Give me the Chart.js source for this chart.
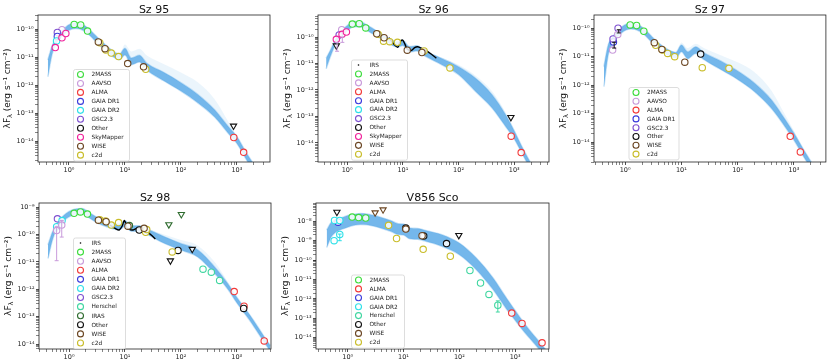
<!DOCTYPE html>
<html>
<head>
<meta charset="utf-8">
<script src="https://cdn.jsdelivr.net/npm/chart.js@4.4.0/dist/chart.umd.min.js"></script>
<style>
  body { margin: 0; background: #fff; }
  #wrap { position: relative; width: 831px; height: 364px; }
  canvas { position: absolute; left: 0; top: 0; }
</style>
</head>
<body>
<div id="wrap">
  <canvas id="c1" width="831" height="364"></canvas>
  <canvas id="c2" width="831" height="364"></canvas>
  <canvas id="c3" width="831" height="364"></canvas>
  <canvas id="c4" width="831" height="364"></canvas>
  <canvas id="c5" width="831" height="364"></canvas>
</div>
<script>
// model grid (micron), shared by all panels; model envelopes are log10(lambda F_lambda)
const modelWave = [0.42, 0.5, 0.6, 0.8, 1.0, 1.3, 1.7, 2.2, 3, 4, 6, 8, 10, 13, 18, 25, 50, 100, 200, 400, 700, 1000, 1500, 2000, 3000, 4000];

// ---- Sz 95
const sz95Wave   = [0.57, 0.60, 0.62, 0.62, 0.75, 0.75, 0.88, 1.24, 1.62, 2.15, 3.35, 3.55, 4.4, 4.55, 5.7, 7.7, 11.2, 21.5, 23.5, 880, 1320];
const sz95Flux   = [2.2e-11, 3.8e-11, 5.5e-11, 7.6e-11, 9.5e-11, 4.9e-11, 7.0e-11, 1.47e-10, 1.42e-10, 8.5e-11, 3.5e-11, 3.3e-11, 2.0e-11, 1.8e-11, 1.4e-11, 1.05e-11, 5.9e-12, 4.5e-12, 3.7e-12, 1.35e-14, 4.0e-15];
const sz95Survey = ['SkyMapper', 'GAIA DR2', 'GAIA DR1', 'GSC2.3', 'AAVSO', 'SkyMapper', 'SkyMapper', '2MASS', '2MASS', '2MASS', 'WISE', 'c2d', 'WISE', 'c2d', 'c2d', 'c2d', 'WISE', 'WISE', 'c2d', 'ALMA', 'ALMA'];
const sz95LimWave = [870];
const sz95LimFlux = [3.5e-14];
const sz95LimSurvey = ['Other'];
const sz95ModelLo  = [-11.7, -10.9, -10.49, -10.2, -10.04, -9.98, -10.02, -10.17, -10.43, -10.67, -10.97, -11.09, -10.92, -11.27, -11.17, -11.47, -11.85, -12.21, -12.63, -13.14, -13.72, -14.08, -14.68, -15.07, -15.62, -16.12];
const sz95ModelHi  = [-11.1, -10.6, -10.29, -10.0, -9.84, -9.78, -9.82, -9.97, -10.23, -10.47, -10.77, -10.89, -10.68, -11.03, -10.93, -11.23, -11.55, -11.91, -12.33, -12.88, -13.48, -13.84, -14.44, -14.83, -15.38, -15.88];
const sz95ModelFan = [-11.1, -10.6, -10.29, -10.0, -9.84, -9.78, -9.82, -9.97, -10.23, -10.47, -10.77, -10.89, -10.55, -10.8, -10.7, -10.95, -11.25, -11.55, -11.9, -12.5, -13.3, -13.84, -14.44, -14.83, -15.38, -15.88];
const sz95Legend = ['2MASS', 'AAVSO', 'ALMA', 'GAIA DR1', 'GAIA DR2', 'GSC2.3', 'Other', 'SkyMapper', 'WISE', 'c2d'];

// ---- Sz 96
const sz96Wave   = [0.64, 0.72, 0.80, 0.81, 0.97, 1.24, 1.65, 2.16, 3.4, 3.6, 4.5, 4.6, 5.8, 8.0, 12, 22, 24, 70, 880, 1330];
const sz96Flux   = [8.2e-11, 1.2e-10, 1.9e-10, 1.27e-10, 1.55e-10, 3.1e-10, 3.2e-10, 2.2e-10, 1.33e-10, 1.27e-10, 7.0e-11, 9.4e-11, 6.7e-11, 6.3e-11, 3.2e-11, 2.6e-11, 3.0e-11, 6.8e-12, 1.8e-14, 4.3e-15];
const sz96Survey = ['SkyMapper', 'GSC2.3', 'AAVSO', 'SkyMapper', 'SkyMapper', '2MASS', '2MASS', '2MASS', 'WISE', 'c2d', 'c2d', 'WISE', 'c2d', 'c2d', 'WISE', 'WISE', 'c2d', 'c2d', 'ALMA', 'ALMA'];
const sz96LimWave = [0.64, 870];
const sz96LimFlux = [4.7e-11, 9.3e-14];
const sz96LimSurvey = ['Other', 'Other'];
const sz96ErrWave = [0.66, 0.82];
const sz96ErrLo = [2.9e-11, 6.3e-11];
const sz96ErrHi = [6.2e-11, 1.0e-10];
const sz96ErrSurvey = ['AAVSO', 'AAVSO'];
const sz96IrsWave = [5.6, 6.9, 8.1, 8.9, 9.9, 10.9, 11.8, 14.1, 16.3, 18.5, 21.8, 26.8, 33, 40];
const sz96IrsFlux = [9.4e-11, 5.4e-11, 4.1e-11, 6.6e-11, 7.7e-11, 5.4e-11, 3.7e-11, 3.1e-11, 4.0e-11, 4.3e-11, 3.7e-11, 3.0e-11, 2.2e-11, 1.6e-11];
const sz96ModelLo  = [-11.2, -10.74, -10.34, -9.96, -9.77, -9.61, -9.61, -9.73, -9.9, -10.06, -10.28, -10.38, -10.32, -10.56, -10.53, -10.72, -11.05, -11.42, -12.05, -12.68, -13.38, -13.85, -14.54, -15.02, -15.72, -16.32];
const sz96ModelHi  = [-10.8, -10.5, -10.14, -9.76, -9.57, -9.41, -9.41, -9.53, -9.7, -9.86, -10.08, -10.18, -10.12, -10.36, -10.33, -10.52, -10.81, -11.12, -11.55, -12.18, -12.94, -13.55, -14.3, -14.78, -15.48, -16.08];
const sz96ModelFan = [-10.8, -10.5, -10.14, -9.76, -9.57, -9.41, -9.41, -9.53, -9.7, -9.86, -10.08, -10.18, -10.12, -10.36, -10.33, -10.52, -10.78, -11.05, -11.45, -12.05, -12.85, -13.5, -14.3, -14.78, -15.48, -16.08];
const sz96Legend = ['IRS', '2MASS', 'AAVSO', 'ALMA', 'GAIA DR1', 'GAIA DR2', 'GSC2.3', 'Other', 'SkyMapper', 'WISE', 'c2d'];

// ---- Sz 97
const sz97Wave   = [0.60, 0.61, 0.62, 0.74, 0.75, 1.23, 1.6, 2.15, 3.3, 3.5, 4.5, 4.6, 5.7, 7.6, 11.5, 22, 23.5, 70, 860, 1300];
const sz97Flux   = [1.7e-11, 4.2e-11, 3.3e-11, 6.0e-11, 1.0e-10, 1.3e-10, 1.24e-10, 7.8e-11, 3.1e-11, 2.5e-11, 1.8e-11, 1.7e-11, 1.3e-11, 1.0e-11, 6.4e-12, 1.23e-11, 4.1e-12, 3.9e-12, 1.6e-14, 4.5e-15];
const sz97Survey = ['AAVSO', 'GSC2.3', 'GAIA DR1', 'AAVSO', 'GSC2.3', '2MASS', '2MASS', '2MASS', 'WISE', 'c2d', 'WISE', 'c2d', 'c2d', 'c2d', 'WISE', 'Other', 'c2d', 'c2d', 'ALMA', 'ALMA'];
const sz97ErrWave = [0.64, 0.77];
const sz97ErrLo = [2.0e-11, 6.8e-11];
const sz97ErrHi = [3.2e-11, 8.8e-11];
const sz97ErrSurvey = ['Other', 'Other'];
const sz97ModelLo  = [-12.05, -10.95, -10.54, -10.23, -10.08, -10.03, -10.08, -10.23, -10.5, -10.73, -10.97, -11.05, -10.83, -11.07, -10.89, -11.1, -11.45, -11.8, -12.23, -12.82, -13.47, -13.93, -14.52, -14.92, -15.52, -16.02];
const sz97ModelHi  = [-11.35, -10.59, -10.3, -10.03, -9.88, -9.83, -9.88, -10.03, -10.3, -10.53, -10.77, -10.85, -10.59, -10.83, -10.65, -10.86, -11.15, -11.5, -11.93, -12.52, -13.21, -13.69, -14.28, -14.68, -15.28, -15.78];
const sz97ModelFan = [-11.35, -10.59, -10.3, -10.03, -9.88, -9.83, -9.88, -10.03, -10.3, -10.53, -10.77, -10.85, -10.5, -10.7, -10.55, -10.7, -10.95, -11.2, -11.55, -12.2, -13.05, -13.6, -14.28, -14.68, -15.28, -15.78];
const sz97Legend = ['2MASS', 'AAVSO', 'ALMA', 'GAIA DR1', 'GSC2.3', 'Other', 'WISE', 'c2d'];

// ---- Sz 98
const sz98Wave   = [0.60, 0.60, 0.62, 0.74, 0.75, 1.23, 1.6, 2.13, 3.35, 3.55, 4.5, 4.6, 5.7, 7.7, 11.3, 12, 18, 22, 23.5, 24.5, 70, 89, 249, 351, 494, 900, 1330, 1350, 3100];
const sz98Flux   = [1.38e-10, 1.9e-10, 3.7e-10, 2.2e-10, 3.2e-10, 5.9e-10, 6.6e-10, 5.5e-10, 3.3e-10, 3.4e-10, 3.1e-10, 2.9e-10, 2.2e-10, 2.7e-10, 2.0e-10, 2.1e-10, 1.45e-10, 1.67e-10, 1.2e-10, 1.5e-10, 2.3e-11, 2.6e-11, 5.4e-12, 4.2e-12, 2.1e-12, 8.2e-13, 2.0e-13, 2.4e-13, 1.3e-14];
const sz98Survey = ['AAVSO', 'GAIA DR2', 'GSC2.3', 'AAVSO', 'GAIA DR2', '2MASS', '2MASS', '2MASS', 'WISE', 'c2d', 'c2d', 'WISE', 'c2d', 'c2d', 'WISE', 'IRAS', 'Other', 'WISE', 'c2d', 'c2d', 'c2d', 'Other', 'Herschel', 'Herschel', 'Herschel', 'ALMA', 'Other', 'ALMA', 'ALMA'];
const sz98LimWave = [61, 102, 65, 160];
const sz98LimFlux = [2.3e-10, 5.4e-10, 1.1e-11, 2.9e-11];
const sz98LimSurvey = ['IRAS', 'IRAS', 'Other', 'Other'];
const sz98ErrWave = [0.60, 0.74];
const sz98ErrLo = [1.1e-11, 8.0e-11];
const sz98ErrHi = [1.9e-10, 3.2e-10];
const sz98ErrSurvey = ['AAVSO', 'AAVSO'];
const sz98IrsWave = [5.4, 6.7, 7.9, 8.9, 9.7, 10.5, 11.9, 14, 16.6, 19.5, 24, 29.5, 35];
const sz98IrsFlux = [2.2e-10, 1.65e-10, 1.45e-10, 2.0e-10, 3.2e-10, 2.4e-10, 1.58e-10, 1.45e-10, 1.7e-10, 1.78e-10, 1.32e-10, 9.5e-11, 6.8e-11];
const sz98ModelLo  = [-10.88, -10.23, -9.82, -9.51, -9.36, -9.27, -9.25, -9.37, -9.55, -9.67, -9.79, -9.82, -9.7, -9.88, -9.88, -10.0, -10.32, -10.57, -10.82, -11.42, -12.01, -12.49, -12.98, -13.34, -13.89, -14.26];
const sz98ModelHi  = [-10.38, -9.93, -9.62, -9.31, -9.16, -9.07, -9.05, -9.17, -9.35, -9.47, -9.59, -9.62, -9.5, -9.68, -9.68, -9.8, -10.08, -10.33, -10.56, -11.18, -11.81, -12.29, -12.78, -13.14, -13.69, -14.06];
const sz98ModelFan = [-10.38, -9.93, -9.62, -9.31, -9.16, -9.07, -9.05, -9.17, -9.35, -9.47, -9.59, -9.62, -9.5, -9.68, -9.68, -9.8, -10.0, -10.2, -10.4, -11.0, -11.75, -12.29, -12.78, -13.14, -13.69, -14.06];
const sz98Legend = ['IRS', '2MASS', 'AAVSO', 'ALMA', 'GAIA DR1', 'GAIA DR2', 'GSC2.3', 'Herschel', 'IRAS', 'Other', 'WISE', 'c2d'];

// ---- V856 Sco
const v856Wave   = [0.57, 0.58, 0.67, 0.72, 0.72, 1.2, 1.57, 2.1, 5.4, 7.5, 11, 11, 21.5, 22.5, 23, 59, 69, 155, 240, 340, 490, 870, 1330, 3040];
const v856Flux   = [1.0e-9, 1.1e-8, 9.0e-9, 1.1e-8, 2.1e-9, 1.66e-8, 1.55e-8, 1.48e-8, 6.2e-9, 1.3e-9, 4.0e-9, 4.5e-9, 1.8e-9, 3.6e-10, 1.75e-9, 7.1e-10, 1.58e-10, 2.9e-11, 6.6e-12, 1.7e-12, 4.7e-13, 1.86e-13, 5.4e-14, 5.4e-15];
const v856Survey = ['GAIA DR2', 'GAIA DR2', 'GAIA DR1', 'GAIA DR2', 'GAIA DR2', '2MASS', '2MASS', '2MASS', 'c2d', 'c2d', 'WISE', 'Other', 'WISE', 'c2d', 'Other', 'Other', 'c2d', 'Herschel', 'Herschel', 'Herschel', 'Herschel', 'ALMA', 'ALMA', 'ALMA'];
const v856LimWave = [0.64, 3.1, 4.3, 98];
const v856LimFlux = [3.0e-8, 2.8e-8, 4.0e-8, 1.9e-9];
const v856LimSurvey = ['Other', 'WISE', 'WISE', 'Other'];
const v856ErrWave = [0.72, 490];
const v856ErrLo = [1.0e-9, 2.1e-13];
const v856ErrHi = [2.2e-9, 7.9e-13];
const v856ErrSurvey = ['GAIA DR2', 'Herschel'];
const v856ModelLo  = [-9.35, -8.83, -8.58, -8.4, -8.3, -8.2, -8.16, -8.18, -8.26, -8.36, -8.53, -8.68, -8.7, -8.9, -8.93, -9.03, -9.3, -9.72, -10.48, -11.51, -12.52, -13.1, -13.75, -14.16, -14.76, -15.2];
const v856ModelHi  = [-8.45, -8.07, -7.92, -7.8, -7.7, -7.64, -7.6, -7.62, -7.7, -7.8, -7.97, -8.12, -8.14, -8.34, -8.37, -8.47, -8.7, -9.12, -9.88, -10.91, -11.96, -12.6, -13.31, -13.76, -14.36, -14.8];
const v856ModelFan = v856ModelHi;
const v856Legend = ['2MASS', 'ALMA', 'GAIA DR1', 'GAIA DR2', 'Herschel', 'Other', 'WISE', 'c2d'];

const surveyColors = {
  '2MASS': '#3ddc3d', 'AAVSO': '#c99bdb', 'ALMA': '#f23a3a', 'GAIA DR1': '#3b3bdc',
  'GAIA DR2': '#2ee0e8', 'GSC2.3': '#7d4fd0', 'Herschel': '#3fd6a0', 'IRAS': '#2e6b2e',
  'Other': '#111111', 'SkyMapper': '#f0209a', 'WISE': '#6b4623', 'c2d': '#c9bd2a', 'IRS': '#000000'
};

const supChars = { '0': '⁰', '1': '¹', '2': '²', '3': '³', '4': '⁴', '5': '⁵', '6': '⁶', '7': '⁷', '8': '⁸', '9': '⁹', '-': '⁻' };
function isDecade(v) { const l = Math.log10(v); return Math.abs(l - Math.round(l)) < 1e-6; }
function sup(v) { return '10' + String(Math.round(Math.log10(v))).split('').map(c => supChars[c]).join(''); }
function logTicks(min, max) {
  const out = [];
  for (let e = Math.floor(Math.log10(min)); e <= Math.ceil(Math.log10(max)); e++) {
    for (let m = 1; m < 10; m++) {
      const v = m * Math.pow(10, e);
      if (v >= min && v <= max) out.push({ value: v });
    }
  }
  return out;
}

function logAxis(range, isX) {
  return {
    type: 'logarithmic', min: range[0], max: range[1], position: isX ? 'bottom' : 'left',
    afterBuildTicks: ax => { ax.ticks = logTicks(range[0], range[1]); },
    afterFit: ax => { if (isX) ax.height = 14; else ax.width = 30; },
    grid: {
      display: true, drawOnChartArea: false, drawTicks: true, tickLength: 3, lineWidth: 0.8,
      tickColor: c => (c.tick && isDecade(c.tick.value)) ? '#222' : '#666'
    },
    border: { display: false },
    ticks: {
      autoSkip: false, maxRotation: 0, padding: isX ? 1 : 1.5, color: '#222',
      font: { size: 6.5, family: 'DejaVu Sans' },
      callback: v => isDecade(v) ? sup(v) : ''
    }
  };
}

// frame, title, y label, legend box and error bars
const decor = {
  id: 'decor',
  afterDatasetsDraw(chart, args, o) {
    const { ctx, scales: { x, y } } = chart;
    if (!o.errWave) return;
    ctx.save();
    ctx.lineWidth = 1;
    o.errWave.forEach((w, i) => {
      const px = x.getPixelForValue(w), p1 = y.getPixelForValue(o.errLo[i]), p2 = y.getPixelForValue(o.errHi[i]);
      ctx.strokeStyle = surveyColors[o.errSurvey[i]];
      ctx.beginPath();
      ctx.moveTo(px, p1); ctx.lineTo(px, p2);
      ctx.moveTo(px - 2, p1); ctx.lineTo(px + 2, p1);
      ctx.moveTo(px - 2, p2); ctx.lineTo(px + 2, p2);
      ctx.stroke();
    });
    ctx.restore();
  },
  afterDraw(chart, args, o) {
    const { ctx, chartArea: a } = chart;
    ctx.save();
    ctx.strokeStyle = '#222'; ctx.lineWidth = 0.8;
    ctx.strokeRect(a.left, a.top, a.right - a.left, a.bottom - a.top);

    ctx.fillStyle = '#111';
    ctx.font = '11px "DejaVu Sans"';
    ctx.textAlign = 'center'; ctx.textBaseline = 'alphabetic';
    ctx.fillText(o.title, (a.left + a.right) / 2, a.top - 2);

    // y axis label with subscript lambda
    ctx.save();
    ctx.translate(a.left - 30, (a.top + a.bottom) / 2);
    ctx.rotate(-Math.PI / 2);
    ctx.textAlign = 'left'; ctx.textBaseline = 'middle';
    const parts = [['λF', 9, 0], ['λ', 6.5, 2.5], [' (erg s⁻¹ cm⁻²)', 9, 0]];
    let tot = 0;
    parts.forEach(p => { ctx.font = p[1] + 'px "DejaVu Sans"'; tot += ctx.measureText(p[0]).width; });
    let cx = -tot / 2;
    parts.forEach(p => {
      ctx.font = p[1] + 'px "DejaVu Sans"';
      ctx.fillText(p[0], cx, p[2]);
      cx += ctx.measureText(p[0]).width;
    });
    ctx.restore();

    // legend
    const L = o.legendBox;
    ctx.save();
    ctx.beginPath(); ctx.rect(a.left, a.top, a.right - a.left, a.bottom - a.top); ctx.clip();
    const h = o.legend.length * L.row + 2;
    ctx.beginPath();
    ctx.roundRect(L.x, L.y, L.w, h, 2);
    ctx.fillStyle = 'rgba(255,255,255,0.85)'; ctx.fill();
    ctx.strokeStyle = '#d4d4d4'; ctx.lineWidth = 0.8; ctx.stroke();
    ctx.font = '5.8px "DejaVu Sans"'; ctx.textAlign = 'left'; ctx.textBaseline = 'middle';
    o.legend.forEach((s, i) => {
      const cy = L.y + 5 + i * L.row;
      ctx.beginPath();
      if (s === 'IRS') {
        ctx.arc(L.x + 7, cy, 0.8, 0, Math.PI * 2);
        ctx.fillStyle = '#000'; ctx.fill();
      } else {
        ctx.arc(L.x + 7, cy, 3, 0, Math.PI * 2);
        ctx.strokeStyle = surveyColors[s]; ctx.lineWidth = 1.1; ctx.stroke();
      }
      ctx.fillStyle = '#222';
      ctx.fillText(s, L.x + 18, cy + 0.3);
    });
    ctx.restore();
    ctx.restore();
  }
};

function makeChart(id, p) {
  const datasets = [];
  // photometry, one dataset per survey
  [...new Set(p.survey)].forEach(s => {
    datasets.push({
      label: s,
      data: p.wave.map((w, i) => p.survey[i] === s ? { x: w, y: p.flux[i] } : null).filter(Boolean),
      showLine: false, pointStyle: 'circle', pointRadius: 3.2, pointBorderWidth: 1.1,
      pointBorderColor: surveyColors[s], pointBackgroundColor: 'rgba(255,255,255,0.85)', order: 1
    });
  });
  // upper limits
  if (p.limWave) {
    [...new Set(p.limSurvey)].forEach(s => {
      datasets.push({
        label: s + ' limit',
        data: p.limWave.map((w, i) => p.limSurvey[i] === s ? { x: w, y: p.limFlux[i] } : null).filter(Boolean),
        showLine: false, pointStyle: 'triangle', pointRotation: 180, pointRadius: 3.6, pointBorderWidth: 1.1,
        pointBorderColor: surveyColors[s], pointBackgroundColor: 'rgba(255,255,255,0.85)', order: 1
      });
    });
  }
  // IRS spectrum
  if (p.irsWave) {
    datasets.push({
      label: 'IRS', data: p.irsWave.map((w, i) => ({ x: w, y: p.irsFlux[i] })),
      borderColor: '#000', borderWidth: 1.4, pointRadius: 0, tension: 0.3, order: 2
    });
  }
  // model envelope: core band + faint spread
  const base = datasets.length;
  datasets.push({
    label: 'model lo', data: modelWave.map((w, i) => ({ x: w, y: Math.pow(10, p.lo[i]) })),
    borderColor: 'rgba(95,172,232,0.35)', borderWidth: 1.5, pointRadius: 0, fill: false,
    cubicInterpolationMode: 'monotone', order: 6
  });
  datasets.push({
    label: 'model hi', data: modelWave.map((w, i) => ({ x: w, y: Math.pow(10, p.hi[i]) })),
    borderColor: 'rgba(95,172,232,0.35)', borderWidth: 1.5, pointRadius: 0, fill: base,
    backgroundColor: 'rgba(95,172,232,0.85)', cubicInterpolationMode: 'monotone', order: 6
  });
  datasets.push({
    label: 'model spread', data: modelWave.map((w, i) => ({ x: w, y: Math.pow(10, p.fan[i]) })),
    borderColor: 'transparent', borderWidth: 0.01, pointRadius: 0, fill: base,
    backgroundColor: 'rgba(120,185,235,0.15)', cubicInterpolationMode: 'monotone', order: 7
  });

  const g = p.area;
  return new Chart(document.getElementById(id), {
    type: 'line',
    data: { datasets },
    options: {
      responsive: false, animation: false, devicePixelRatio: 1,
      layout: { padding: { left: g.l - 30, top: g.t, right: 831 - g.r, bottom: 364 - g.b - 14 } },
      plugins: {
        legend: { display: false }, tooltip: { enabled: false },
        decor: { title: p.title, legend: p.legend, legendBox: p.legendBox, errWave: p.errWave, errLo: p.errLo, errHi: p.errHi, errSurvey: p.errSurvey }
      },
      scales: { x: logAxis(p.xRange, true), y: logAxis(p.yRange, false) }
    },
    plugins: [decor]
  });
}

makeChart('c1', {
  title: 'Sz 95', wave: sz95Wave, flux: sz95Flux, survey: sz95Survey,
  limWave: sz95LimWave, limFlux: sz95LimFlux, limSurvey: sz95LimSurvey,
  lo: sz95ModelLo, hi: sz95ModelHi, fan: sz95ModelFan, legend: sz95Legend,
  xRange: [0.28, 3900], yRange: [1.8e-15, 3.2e-10],
  area: { l: 38, t: 15, r: 270, b: 162 }, legendBox: { x: 73.5, y: 69.5, w: 56, row: 8.96 }
});
makeChart('c2', {
  title: 'Sz 96', wave: sz96Wave, flux: sz96Flux, survey: sz96Survey,
  limWave: sz96LimWave, limFlux: sz96LimFlux, limSurvey: sz96LimSurvey,
  errWave: sz96ErrWave, errLo: sz96ErrLo, errHi: sz96ErrHi, errSurvey: sz96ErrSurvey,
  irsWave: sz96IrsWave, irsFlux: sz96IrsFlux,
  lo: sz96ModelLo, hi: sz96ModelHi, fan: sz96ModelFan, legend: sz96Legend,
  xRange: [0.33, 4200], yRange: [1.9e-15, 6.8e-10],
  area: { l: 318, t: 15, r: 549, b: 162 }, legendBox: { x: 351.5, y: 60, w: 56, row: 8.93 }
});
makeChart('c3', {
  title: 'Sz 97', wave: sz97Wave, flux: sz97Flux, survey: sz97Survey,
  errWave: sz97ErrWave, errLo: sz97ErrLo, errHi: sz97ErrHi, errSurvey: sz97ErrSurvey,
  lo: sz97ModelLo, hi: sz97ModelHi, fan: sz97ModelFan, legend: sz97Legend,
  xRange: [0.28, 3700], yRange: [2.0e-15, 2.9e-10],
  area: { l: 594, t: 15, r: 826, b: 162 }, legendBox: { x: 629, y: 87.5, w: 50, row: 8.8 }
});
makeChart('c4', {
  title: 'Sz 98', wave: sz98Wave, flux: sz98Flux, survey: sz98Survey,
  limWave: sz98LimWave, limFlux: sz98LimFlux, limSurvey: sz98LimSurvey,
  errWave: sz98ErrWave, errLo: sz98ErrLo, errHi: sz98ErrHi, errSurvey: sz98ErrSurvey,
  irsWave: sz98IrsWave, irsFlux: sz98IrsFlux,
  lo: sz98ModelLo, hi: sz98ModelHi, fan: sz98ModelFan, legend: sz98Legend,
  xRange: [0.29, 4100], yRange: [6.6e-15, 1.4e-9],
  area: { l: 39, t: 203, r: 271, b: 349 }, legendBox: { x: 73.5, y: 238, w: 52, row: 9.09 }
});
makeChart('c5', {
  title: 'V856 Sco', wave: v856Wave, flux: v856Flux, survey: v856Survey,
  limWave: v856LimWave, limFlux: v856LimFlux, limSurvey: v856LimSurvey,
  errWave: v856ErrWave, errLo: v856ErrLo, errHi: v856ErrHi, errSurvey: v856ErrSurvey,
  lo: v856ModelLo, hi: v856ModelHi, fan: v856ModelFan, legend: v856Legend,
  xRange: [0.27, 4050], yRange: [2.6e-15, 8.8e-8],
  area: { l: 316, t: 203, r: 549, b: 349 }, legendBox: { x: 351.5, y: 275, w: 53, row: 8.9 }
});
</script>
</body>
</html>
